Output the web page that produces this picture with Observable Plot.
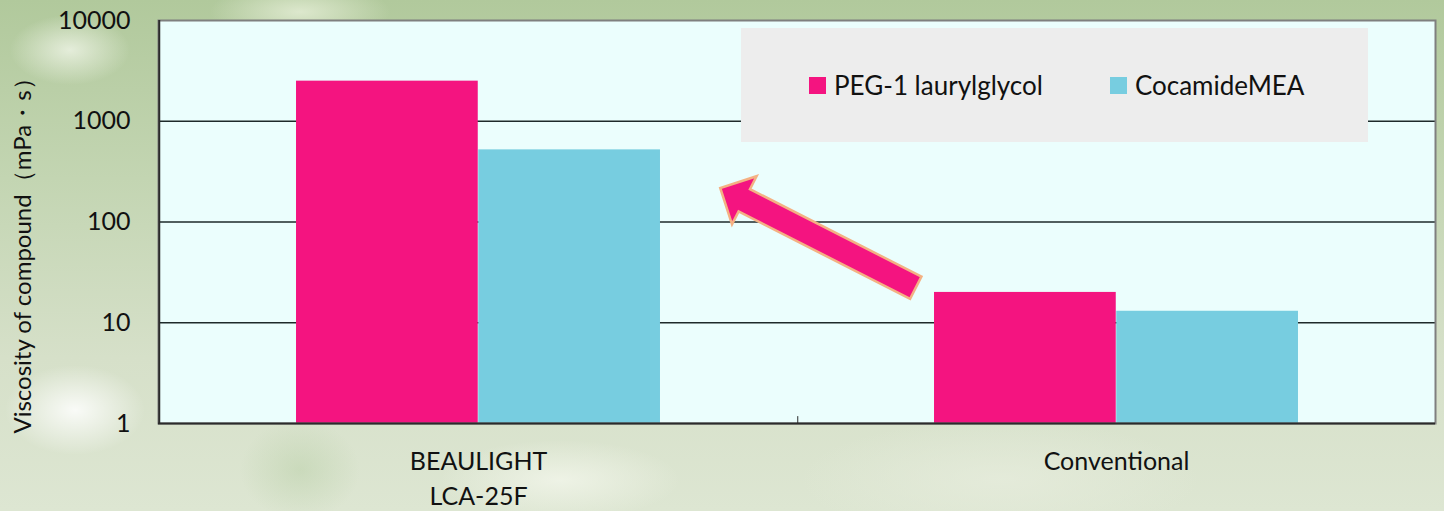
<!DOCTYPE html>
<html>
<head>
<meta charset="utf-8">
<script src="https://cdn.jsdelivr.net/npm/d3@7"></script>
<script src="https://cdn.jsdelivr.net/npm/@observablehq/plot@0.6"></script>
<style>
  html, body { margin: 0; padding: 0; }
  body {
    width: 1444px; height: 511px; overflow: hidden;
    font-family: Lato, "Noto Sans", sans-serif;
    background:
      radial-gradient(ellipse 70px 45px at 75px 410px, rgba(255,255,255,0.85), rgba(255,255,255,0) 100%),
      radial-gradient(ellipse 60px 35px at 70px 50px, rgba(240,245,232,0.8), rgba(240,245,232,0) 100%),
      radial-gradient(ellipse 90px 30px at 300px 12px, rgba(225,235,210,0.9), rgba(225,235,210,0) 100%),
      radial-gradient(ellipse 120px 40px at 560px 480px, rgba(240,244,232,0.9), rgba(240,244,232,0) 100%),
      radial-gradient(ellipse 60px 50px at 300px 470px, rgba(170,198,150,0.35), rgba(170,198,150,0) 100%),
      radial-gradient(ellipse 200px 60px at 1000px 480px, rgba(230,236,220,0.8), rgba(230,236,220,0) 100%),
      linear-gradient(to bottom, #b1c99c 0%, #c3d5b2 35%, #d6e0c9 70%, #dde6d2 100%);
  }
  #wrap { position: relative; width: 1444px; height: 511px; }
  #legend {
    position: absolute; left: 741px; top: 28px; width: 627px; height: 114px;
    background: #ededed; box-sizing: border-box;
    display: flex; align-items: center; padding-left: 68px;
    font-family: Lato, "Noto Sans", sans-serif; font-size: 26px; color: #111;
  }
  #legend .item { display: flex; align-items: center; }
  #legend .sw { width: 17px; height: 17px; margin-right: 8px; }
</style>
</head>
<body>
<div id="wrap"></div>
<script>
// ---- data ----
const categories = ["BEAULIGHT\nLCA-25F", "Conventional"];
const seriesNames = ["PEG-1 laurylglycol", "CocamideMEA"];
const pegValues = [2500, 20];
const cocamideValues = [520, 13];
const yTicks = [1, 10, 100, 1000, 10000];
const seriesColors = ["#f41480", "#77cde0"];
const yLabel = "Viscosity of compound（mPa・s）";
// arrow annotation (from Conventional towards BEAULIGHT), in data terms
const arrowFrom = {category: "Conventional", bandFraction: 0.186, value: 22};
const arrowTo = {category: "BEAULIGHT\nLCA-25F", bandFraction: 0.879, value: 215};

// ---- layout ----
const W = 1444, H = 511;
const mL = 158, mR = 9, mT = 20, mB = 88;
const bw = (W - mL - mR) / categories.length;

const rows = categories.flatMap((c, i) => [
  {category: c, series: seriesNames[0], value: pegValues[i]},
  {category: c, series: seriesNames[1], value: cocamideValues[i]}
]);

function blockArrow(index, scales, values, dims, context) {
  const px = (p) => [scales.x(p.category) + p.bandFraction * bw, scales.y(p.value)];
  const [sx, sy] = px(arrowFrom), [tx, ty] = px(arrowTo);
  const dx = tx - sx, dy = ty - sy, L = Math.hypot(dx, dy);
  const ux = dx / L, uy = dy / L, nx = -uy, ny = ux;
  const hw = 12.5, HW = 27, HL = 27;
  const hx = tx - ux * HL, hy = ty - uy * HL;
  const pts = [
    [sx + nx * hw, sy + ny * hw], [hx + nx * hw, hy + ny * hw], [hx + nx * HW, hy + ny * HW],
    [tx, ty],
    [hx - nx * HW, hy - ny * HW], [hx - nx * hw, hy - ny * hw], [sx - nx * hw, sy - ny * hw]
  ];
  const path = d3.create("svg:path")
    .attr("d", "M" + pts.map(p => p.join(",")).join("L") + "Z")
    .attr("fill", "#f41480").attr("stroke", "#f4b183").attr("stroke-width", 2.5)
    .attr("stroke-linejoin", "miter");
  return path.node();
}

const chart = Plot.plot({
  width: W, height: H,
  marginLeft: mL, marginRight: mR, marginTop: mT, marginBottom: mB,
  style: {background: "transparent", fontFamily: "Lato, 'Noto Sans', sans-serif", color: "#111", overflow: "visible"},
  x: {domain: categories, padding: 0, axis: null},
  y: {type: "log", domain: [1, 10000], axis: null},
  marks: [
    Plot.frame({fill: "#ebfefd"}),
    Plot.ruleY([10, 100, 1000], {stroke: "#1e2a2a", strokeWidth: 1.3}),
    Plot.barY(rows.filter(d => d.series === seriesNames[0]), {
      x: "category", y1: 1, y2: "value", fill: seriesColors[0],
      insetLeft: bw * 0.2146, insetRight: bw * 0.5
    }),
    Plot.barY(rows.filter(d => d.series === seriesNames[1]), {
      x: "category", y1: 1, y2: "value", fill: seriesColors[1],
      insetLeft: bw * 0.5, insetRight: bw * 0.2146
    }),
    Plot.frame({stroke: "#7f7f7f", strokeWidth: 2}),
    Plot.ruleX([categories[0]], {dx: -bw / 2, y1: 1, y2: 10000, stroke: "#2b2b2b", strokeWidth: 2}),
    Plot.ruleY([1], {stroke: "#2b2b2b", strokeWidth: 2}),
    Plot.ruleX([categories[0]], {dx: bw / 2, y1: 1, y2: 1.17, stroke: "#2b2b2b", strokeWidth: 1}),
    Plot.axisY({ticks: yTicks, tickFormat: d => String(d), tickSize: 0, tickPadding: 28, fontSize: 25, label: null, fill: "#111"}),
    Plot.axisX({tickSize: 0, tickPadding: 22, fontSize: 25, lineHeight: 1.4, label: null, fill: "#111"}),
    Plot.text([yLabel], {frameAnchor: "left", rotate: -90, textAnchor: "middle", lineAnchor: "middle", dx: -135, dy: 28, fontSize: 24, fill: "#111"}),
    blockArrow
  ]
});

const wrap = document.getElementById("wrap");
wrap.appendChild(chart);

const legend = document.createElement("div");
legend.id = "legend";
seriesNames.forEach((name, i) => {
  const item = document.createElement("div");
  item.className = "item";
  if (i > 0) item.style.marginLeft = "67px";
  const sw = document.createElement("div");
  sw.className = "sw";
  sw.style.background = seriesColors[i];
  const t = document.createElement("span");
  t.textContent = name;
  item.appendChild(sw); item.appendChild(t);
  legend.appendChild(item);
});
wrap.appendChild(legend);
</script>
</body>
</html>
